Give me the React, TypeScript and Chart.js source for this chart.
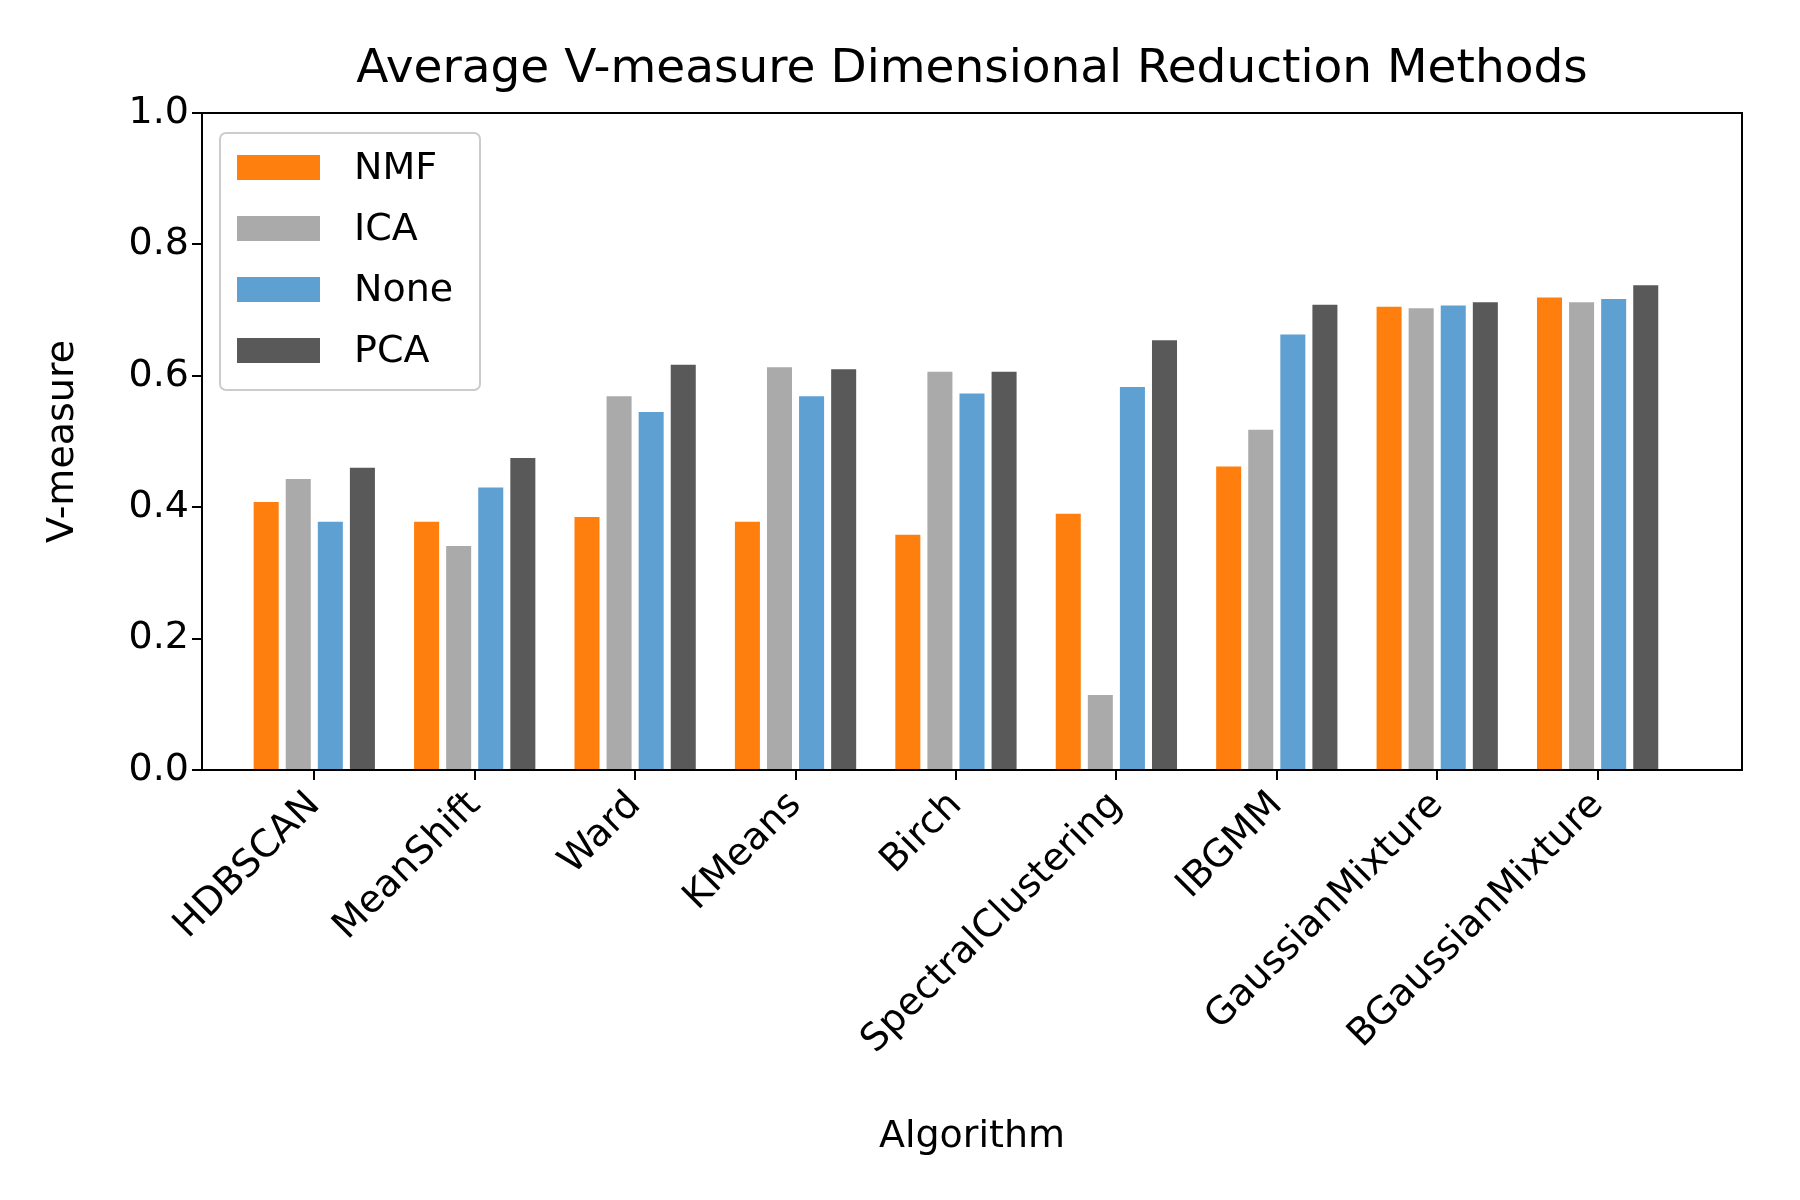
import React, { useEffect, useRef } from 'react'
import { Chart, registerables } from 'chart.js'

Chart.register(...registerables)

const categories = ['HDBSCAN', 'MeanShift', 'Ward', 'KMeans', 'Birch', 'SpectralClustering', 'IBGMM', 'GaussianMixture', 'BGaussianMixture']
const nmf = [0.408, 0.378, 0.385, 0.378, 0.358, 0.39, 0.462, 0.705, 0.719]
const ica = [0.443, 0.341, 0.569, 0.613, 0.606, 0.114, 0.518, 0.703, 0.712]
const none = [0.378, 0.43, 0.545, 0.569, 0.573, 0.583, 0.663, 0.707, 0.717]
const pca = [0.46, 0.475, 0.617, 0.61, 0.606, 0.654, 0.708, 0.712, 0.738]
const yTicks = [0, 0.2, 0.4, 0.6, 0.8, 1.0]

const FONT = "'DejaVu Sans', sans-serif"

const series = [
  { label: 'NMF', data: nmf, color: '#ff7f0e' },
  { label: 'ICA', data: ica, color: '#aaaaaa' },
  { label: 'None', data: none, color: '#5fa0d3' },
  { label: 'PCA', data: pca, color: '#595959' },
]

const decor = {
  id: 'decor',
  afterDraw(chart: any) {
    const { ctx, chartArea: a } = chart
    ctx.save()
    ctx.strokeStyle = '#000'
    ctx.lineWidth = 2
    ctx.strokeRect(a.left, a.top, a.right - a.left, a.bottom - a.top)
    ctx.fillStyle = '#000'
    ctx.font = `47px ${FONT}`
    ctx.textAlign = 'center'
    ctx.textBaseline = 'middle'
    ctx.fillText('Average V-measure Dimensional Reduction Methods', (a.left + a.right) / 2, 70)
    // legend
    ctx.fillStyle = 'rgba(255,255,255,0.8)'
    ctx.strokeStyle = '#cccccc'
    ctx.lineWidth = 2
    ctx.beginPath()
    ctx.roundRect(a.left + 18, a.top + 20, 260, 257, 6)
    ctx.fill()
    ctx.stroke()
    series.forEach((s, i) => {
      const y = a.top + 54 + i * 61
      ctx.fillStyle = s.color
      ctx.fillRect(a.left + 35, y - 12, 83, 25)
      ctx.fillStyle = '#000'
      ctx.font = `38px ${FONT}`
      ctx.textAlign = 'left'
      ctx.fillText(s.label, a.left + 152, y + 2)
    })
    ctx.restore()
  },
}

const App = () => {
  const chartRef = useRef<HTMLCanvasElement>(null)

  useEffect(() => {
    if (!chartRef.current) return
    const chart = new Chart(chartRef.current, {
      type: 'bar',
      data: {
        datasets: series.map((s) => ({
          label: s.label,
          data: s.data.map((v, i) => ({ x: i, y: v })),
          backgroundColor: s.color,
          categoryPercentage: 0.8,
          barPercentage: 0.78,
        })),
      },
      options: {
        animation: false,
        responsive: false,
        layout: { padding: { top: 113, right: 58, left: 0, bottom: 0 } },
        plugins: { legend: { display: false }, tooltip: { enabled: false } },
        scales: {
          x: {
            type: 'linear',
            offset: false,
            min: -0.7,
            max: 8.9,
            afterBuildTicks: (axis: any) => {
              axis.ticks = categories.map((_, i) => ({ value: i }))
            },
            afterFit: (axis: any) => {
              axis.height = 430
            },
            grid: { offset: false, drawOnChartArea: false, drawTicks: true, tickLength: 10, color: '#000', lineWidth: 2 },
            border: { display: false },
            ticks: {
              autoSkip: false,
              maxRotation: 45,
              minRotation: 45,
              color: '#000',
              font: { family: FONT, size: 38 },
              callback: (v: any) => categories[v as number] ?? '',
            },
            title: { display: true, text: 'Algorithm', color: '#000', font: { family: FONT, size: 38 }, padding: { top: 0, bottom: 40 } },
          },
          y: {
            min: 0,
            max: 1,
            afterBuildTicks: (axis: any) => {
              axis.ticks = yTicks.map((v) => ({ value: v }))
            },
            afterFit: (axis: any) => {
              axis.width = 202
            },
            grid: { drawOnChartArea: false, drawTicks: true, tickLength: 10, color: '#000', lineWidth: 2 },
            border: { display: false },
            ticks: {
              color: '#000',
              font: { family: FONT, size: 38 },
              callback: (v: any) => Number(v).toFixed(1),
            },
            title: { display: true, text: 'V-measure', color: '#000', font: { family: FONT, size: 38 }, padding: { top: 40, bottom: 0 } },
          },
        },
      },
      plugins: [decor],
    })
    return () => {
      chart.destroy()
    }
  }, [])

  return (
    <div style={{ position: 'fixed', left: 0, top: 0, width: 1800, height: 1200, background: '#fff' }}>
      <canvas ref={chartRef} width={1800} height={1200} />
    </div>
  )
}

export default App
